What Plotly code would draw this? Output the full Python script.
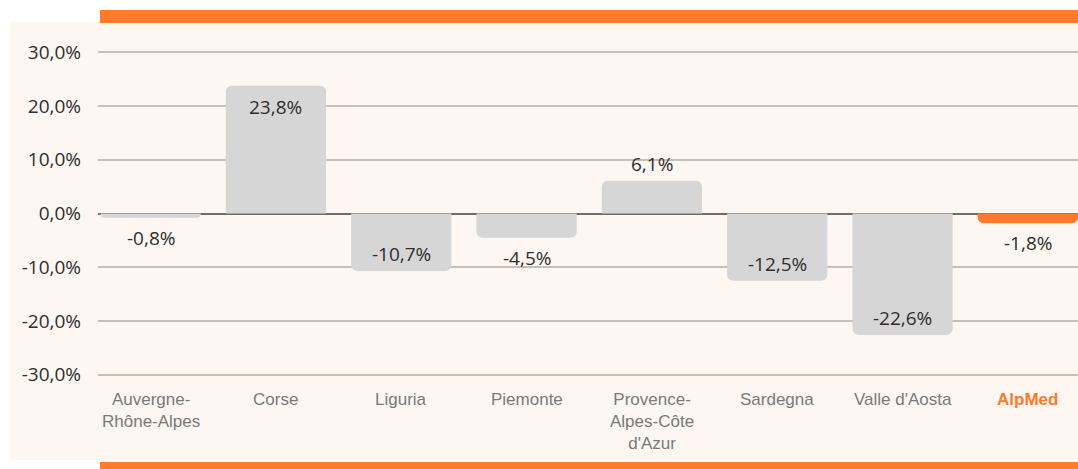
import plotly.graph_objects as go

categories = ["Auvergne-\nRhône-Alpes", "Corse", "Liguria", "Piemonte",
              "Provence-\nAlpes-Côte\nd'Azur", "Sardegna", "Valle d'Aosta", "AlpMed"]
values = [-0.8, 23.8, -10.7, -4.5, 6.1, -12.5, -22.6, -1.8]
tick_vals = [-30, -20, -10, 0, 10, 20, 30]
tick_labels = ["-30,0%", "-20,0%", "-10,0%", "0,0%", "10,0%", "20,0%", "30,0%"]

GRAY = "#d6d6d6"
ORANGE = "#ff7a2c"
PEACH = "#fdf6f1"

xs = list(range(len(categories)))
colors = [ORANGE if c == "AlpMed" else GRAY for c in categories]

fig = go.Figure()
fig.add_trace(go.Bar(
    x=xs, y=values, marker=dict(color=colors, cornerradius=6, line=dict(width=0)),
    width=0.8, hoverinfo="skip"))

annotations = []
# value labels
for x, v in zip(xs, values):
    inside = abs(v) >= 10
    if v >= 0:
        shift = -21 if inside else 17
    else:
        shift = 17 if inside else -20
    txt = f"{v:.1f}%".replace(".", ",")
    annotations.append(dict(x=x, y=v, xref="x", yref="y", text=txt, showarrow=False,
                            yshift=shift, yanchor="middle",
                            font=dict(family="Open Sans", size=19, color="#2e2e2e")))
# category labels
for x, c in zip(xs, categories):
    is_alp = c == "AlpMed"
    label = "<br>".join(c.split("\n"))
    annotations.append(dict(
        x=x, y=-30, xref="x", yref="y",
        text=f"<b>{label}</b>" if is_alp else label,
        showarrow=False, yanchor="top", yshift=-13,
        font=dict(family="Liberation Sans", size=17,
                  color=ORANGE if is_alp else "#7a7a7a")))

W, H = 1078, 469
L, R, T, B = 98, 0, 47, 89
pw, ph = W - L - R, H - T - B
def px_x(p): return (p - L) / pw
def px_y(p): return (H - B - p) / ph

shapes = [
    dict(type="rect", xref="paper", yref="paper", x0=px_x(10), x1=1, y0=px_y(460), y1=px_y(22),
         fillcolor=PEACH, line=dict(width=0), layer="below"),
    dict(type="rect", xref="paper", yref="paper", x0=px_x(100), x1=1, y0=px_y(23), y1=px_y(10),
         fillcolor=ORANGE, line=dict(width=0), layer="above"),
    dict(type="rect", xref="paper", yref="paper", x0=px_x(100), x1=1, y0=px_y(475), y1=px_y(462),
         fillcolor=ORANGE, line=dict(width=0), layer="above"),
]

fig.update_layout(
    width=W, height=H, margin=dict(l=L, r=R, t=T, b=B),
    paper_bgcolor="white", plot_bgcolor="rgba(0,0,0,0)",
    showlegend=False, bargap=0.2,
    annotations=annotations, shapes=shapes,
    xaxis=dict(range=[-0.42, len(categories) - 0.6], showticklabels=False, showgrid=False,
               zeroline=False, showline=False, fixedrange=True),
    yaxis=dict(range=[-31, 31], tickvals=tick_vals, ticktext=tick_labels,
               showgrid=True, gridcolor="#c4c0bd", gridwidth=1.5,
               zeroline=True, zerolinecolor="#6e6e6e", zerolinewidth=1.5,
               showline=False, ticks="", ticklabelstandoff=16,
               tickfont=dict(family="Open Sans", size=19, color="#2e2e2e"), fixedrange=True),
)

fig.write_html("out.html", config={"displayModeBar": False},
               post_script="document.body.style.margin='0';document.body.style.overflow='hidden';")
